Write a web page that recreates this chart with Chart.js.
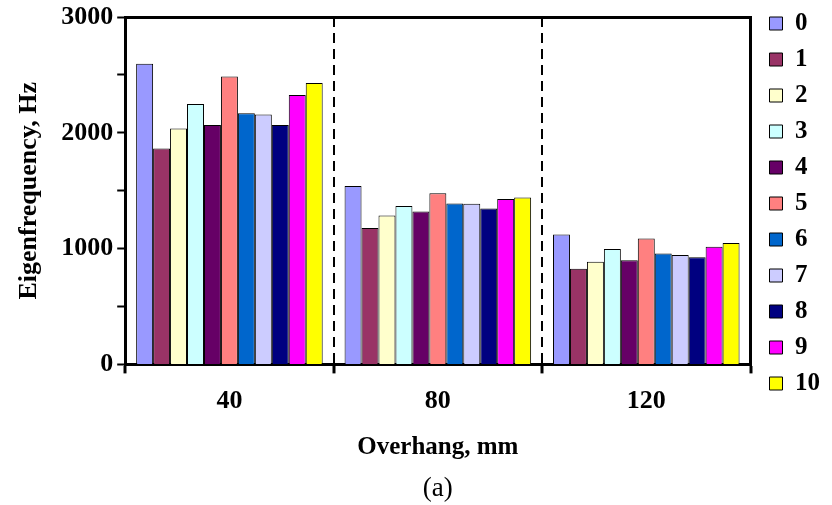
<!DOCTYPE html>
<html>
<head>
<meta charset="utf-8">
<script src="https://cdn.jsdelivr.net/npm/chart.js@4"></script>
<style>
  html, body { margin: 0; padding: 0; background: #fff; }
  #wrap { width: 832px; height: 505px; }
</style>
</head>
<body>
<div id="wrap"><canvas id="c1" width="832" height="505"></canvas></div>
<script>
// overhang lengths, mm
var overhang = ['40', '80', '120'];
var seriesNames = ['0', '1', '2', '3', '4', '5', '6', '7', '8', '9', '10'];

// eigenfrequency (Hz) per series, one value for each overhang
var s0 = [2596, 1541, 1121];
var s1 = [1865, 1177, 827];
var s2 = [2038, 1286, 887];
var s3 = [2249, 1368, 997];
var s4 = [2067, 1321, 899];
var s5 = [2487, 1477, 1087];
var s6 = [2168, 1390, 957];
var s7 = [2157, 1388, 945];
var s8 = [2067, 1347, 925];
var s9 = [2327, 1428, 1017];
var s10 = [2431, 1442, 1049];

var yTicks = [0, 1000, 2000, 3000];

var allSeries = [s0, s1, s2, s3, s4, s5, s6, s7, s8, s9, s10];
var colours = ['#9999FF', '#993366', '#FFFFCC', '#CCFFFF', '#660066', '#FF8080',
               '#0066CC', '#CCCCFF', '#000080', '#FF00FF', '#FFFF00'];

var serif = "'Liberation Serif', 'Times New Roman', serif";

var sets = [];
for (var i = 0; i < allSeries.length; i++) {
  sets.push({
    label: seriesNames[i],
    data: allSeries[i],
    backgroundColor: colours[i],
    borderColor: '#000',
    borderWidth: 1
  });
}

var ctx = document.getElementById('c1').getContext('2d');
var chart1 = new Chart(ctx, {
  type: 'bar',
  data: {
    labels: overhang,
    datasets: sets
  },
  options: {
    responsive: false,
    animation: false,
    devicePixelRatio: 1,
    layout: { padding: { top: 0, left: 14, right: 2, bottom: 0 } },
    datasets: { bar: { categoryPercentage: 0.895, barPercentage: 1 } },
    scales: {
      x: {
        grid: {
          offset: true,
          color: '#000',
          lineWidth: 2,
          tickLength: 9,
          tickWidth: 3
        },
        border: { color: '#000', width: 3, dash: [10, 6] },
        ticks: {
          color: '#000',
          padding: 12,
          font: { family: serif, size: 26, weight: 'bold' }
        },
        title: {
          display: true,
          text: 'Overhang, mm',
          color: '#000',
          padding: { top: 4, bottom: 0 },
          font: { family: serif, size: 25, weight: 'bold' }
        }
      },
      // top edge of the frame
      xTop: {
        position: 'top',
        grid: { display: false },
        ticks: { display: false },
        border: { color: '#000', width: 3 },
        afterFit: function(s) { s.height = 14; }
      },
      y: {
        min: 0,
        max: 3000,
        grid: {
          drawOnChartArea: false,
          color: '#000',
          tickLength: 8,
          tickWidth: 2
        },
        border: { color: '#000', width: 3 },
        ticks: {
          stepSize: 500,
          color: '#000',
          padding: 4,
          font: { family: serif, size: 26, weight: 'bold', lineHeight: 1 },
          callback: function(v) { return yTicks.indexOf(v) >= 0 ? v : ''; }
        },
        title: {
          display: true,
          text: 'Eigenfrequency, Hz',
          color: '#000',
          padding: { top: 0, bottom: 12 },
          font: { family: serif, size: 26, weight: 'bold' }
        }
      },
      // right edge of the frame
      y2: {
        position: 'right',
        min: 0,
        max: 3000,
        grid: { display: false },
        ticks: { display: false },
        border: { color: '#000', width: 3 },
        afterFit: function(s) { s.width = 8; }
      }
    },
    plugins: {
      legend: {
        position: 'right',
        align: 'start',
        labels: {
          color: '#000',
          boxWidth: 13,
          boxHeight: 13,
          padding: 11,
          font: { family: serif, size: 25, weight: 'bold' }
        }
      },
      title: {
        display: true,
        position: 'bottom',
        fullSize: false,
        text: '(a)',
        color: '#000',
        padding: { top: 10, bottom: 0 },
        font: { family: serif, size: 27, weight: 'normal' }
      },
      tooltip: { enabled: false }
    }
  }
});
</script>
</body>
</html>
